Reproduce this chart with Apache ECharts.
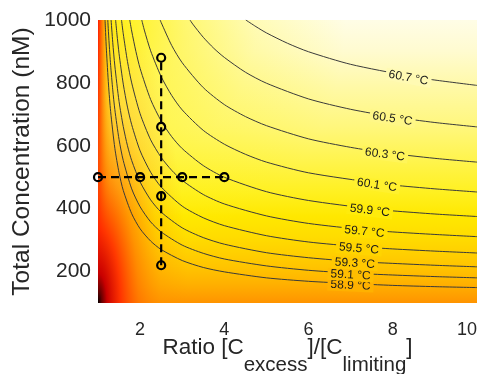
<!DOCTYPE html>
<html><head><meta charset="utf-8">
<script src="https://cdn.jsdelivr.net/npm/echarts@6/dist/echarts.min.js"></script>
<style>html,body{margin:0;padding:0;background:#fff}#c{width:489px;height:374px}</style>
</head><body><div id="c"></div>
<script>
// Contour levels (°C)
const levels = [58.9, 59.1, 59.3, 59.5, 59.7, 59.9, 60.1, 60.3, 60.5, 60.7];
// Contour lines: [ratio, total concentration nM]
const c589 = [[1.167,1000],[1.18,960],[1.2,904],[1.25,793],[1.3,709],[1.4,592],[1.5,514],[1.6,458],[1.8,384],[2,336],[2.25,297],[2.5,270],[3,235],[3.5,213],[4,199],[5,180],[6,169],[7,162],[8,156],[9,152],[10,149]];
const c591 = [[1.232,1000],[1.26,935],[1.3,856],[1.35,778],[1.4,715],[1.5,620],[1.6,553],[1.8,463],[2,406],[2.25,358],[2.5,326],[3,284],[3.5,258],[4,240],[5,218],[6,204],[7,195],[8,189],[9,184],[10,180]];
const c593 = [[1.311,1000],[1.35,929],[1.4,854],[1.5,741],[1.6,661],[1.7,600],[1.8,553],[2,485],[2.25,428],[2.5,389],[3,339],[3.5,308],[4,287],[5,260],[6,244],[7.1,232],[8,226],[9,220],[10,215]];
const c595 = [[1.418,1000],[1.45,955],[1.5,893],[1.6,796],[1.7,723],[1.8,667],[2,584],[2.25,516],[2.5,469],[3,408],[3.5,371],[4,346],[5,314],[6,294],[7.2,279],[8,272],[9,265],[10,259]];
const c597 = [[1.558,1000],[1.6,956],[1.7,868],[1.8,800],[2,702],[2.25,619],[2.5,563],[2.75,522],[3,490],[3.5,445],[4,415],[5,377],[6,353],[7.33,333],[8,326],[9,318],[10,311]];
const c599 = [[1.754,1000],[1.8,965],[1.9,900],[2,846],[2.25,747],[2.5,679],[2.75,629],[3,591],[3.5,537],[4,500],[5,454],[6,426],[7.46,400],[8,393],[9,383],[10,375]];
const c601 = [[2.039,1000],[2.1,968],[2.25,902],[2.5,820],[2.75,760],[3,714],[3.5,649],[4,605],[4.5,573],[5,548],[6,514],[7.63,481],[8,475],[9,463],[10,453]];
const c603 = [[2.476,1000],[2.5,992],[2.75,919],[3,864],[3.5,785],[4,731],[4.5,693],[5,664],[6,622],[7,595],[7.82,578],[9,560],[10,548]];
const c605 = [[3.185,1000],[3.25,987],[3.5,945],[3.75,910],[4,881],[4.5,834],[5,799],[6,749],[7,716],[8,692],[9,674],[10,660]];
const c607 = [[4.51,1000],[4.75,979],[5,959],[5.5,926],[6,899],[7,859],[8.38,822],[9,809],[10,792]];
const contours = [c589, c591, c593, c595, c597, c599, c601, c603, c605, c607];
// ratio at which each contour label sits
const labelRatio = [7, 7, 7.1, 7.2, 7.33, 7.46, 7.63, 7.82, 8, 8.38];
// Measurement points
const ratioSeries = [1, 2, 3, 4];          // at fixed concentration
const ratioSeriesConc = 500;
const concSeries = [220, 440, 660, 880];   // at fixed ratio
const concSeriesRatio = 2.5;
const xTicks = [2, 4, 6, 8, 10];
const yTicks = [200, 400, 600, 800, 1000];

const FONT = "'Liberation Sans', Arial, sans-serif";
const TXT = '#262626';
const labelBg = ['#ffb100','#ffbd00','#ffc800','#ffd400','#ffe000','#ffeb0b','#fff12e','#fff559','#fff787','#fffab3'];

const chart = echarts.init(document.getElementById('c'));

const contourSeries = contours.map((pts, k) => {
  const lp = pts.find(p => p[0] === labelRatio[k]);
  return {
    type: 'line', data: pts, smooth: 0.25, symbol: 'none', silent: true,
    lineStyle: {color: '#3a3a3a', width: 1},
    z: 2,
    markPoint: {
      symbol: 'circle', symbolSize: 1, silent: true, itemStyle: {color: 'rgba(0,0,0,0)'},
      data: [{coord: lp}],
      label: {show: true, position: 'inside', formatter: levels[k].toFixed(1) + ' °C',
        fontSize: 12, fontFamily: FONT, color: '#1a1a1a', backgroundColor: labelBg[k],
        padding: [0, 3], offset: [0, 2]}
    }
  };
});

const ptStyle = {color: 'rgba(0,0,0,0)', borderColor: '#000', borderWidth: 2.2};
const option = {
  animation: false,
  grid: {left: 98, right: 12, top: 20, bottom: 71, show: false, containLabel: false, outerBoundsMode: 'none'},
  xAxis: {
    type: 'value', min: 1, max: 10,
    axisLine: {show: false}, axisTick: {show: false}, splitLine: {show: false},
    axisLabel: {fontSize: 18, fontFamily: FONT, color: TXT, margin: 18, alignMaxLabel: 'right',
      formatter: v => xTicks.includes(v) ? String(v) : ''},
    name: 'Ratio [C{s|excess}]/[C{s|limiting}]', nameLocation: 'middle', nameGap: 32, nameMoveOverlap: false,
    nameTextStyle: {fontSize: 22.5, fontFamily: FONT, color: TXT, verticalAlign: 'top', lineHeight: 26,
      rich: {s: {fontSize: 20.5, fontFamily: FONT, color: TXT, verticalAlign: 'top', lineHeight: 22, padding: [20, 0, 0, 0]}}}
  },
  yAxis: {
    type: 'value', min: 100, max: 1000,
    axisLine: {show: false}, axisTick: {show: false}, splitLine: {show: false},
    axisLabel: {fontSize: 21, fontFamily: FONT, color: TXT, margin: 7, padding: [5, 0, 0, 0],
      formatter: v => yTicks.includes(v) ? String(v) : ''},
    name: 'Total Concentration (nM)', nameLocation: 'middle', nameGap: 63, nameMoveOverlap: false,
    nameTextStyle: {fontSize: 24.5, fontFamily: FONT, color: TXT}
  },
  series: contourSeries.concat([
    {type: 'line', data: ratioSeries.map(r => [r, ratioSeriesConc]), symbol: 'circle', symbolSize: 8,
      itemStyle: ptStyle, lineStyle: {color: '#000', width: 2.2, type: [8, 5]}, z: 10, silent: true},
    {type: 'line', data: concSeries.map(c => [concSeriesRatio, c]), symbol: 'circle', symbolSize: 8,
      itemStyle: ptStyle, lineStyle: {color: '#000', width: 2.2, type: [8, 5]}, z: 10, silent: true}
  ])
};
chart.setOption(option);

// colour field behind the contours (style layers) + label rotation along the lines
const bl = chart.convertToPixel({gridIndex: 0}, [1, 100]);
const tr = chart.convertToPixel({gridIndex: 0}, [10, 1000]);
const W = tr[0] - bl[0], H = bl[1] - tr[1];
const rectShape = {x: bl[0], y: tr[1], width: W, height: H};
const sx = 0.3;
const rot = contours.map((pts, k) => {
  const i = pts.findIndex(p => p[0] === labelRatio[k]);
  const a = chart.convertToPixel({gridIndex: 0}, pts[i - 1]);
  const b = chart.convertToPixel({gridIndex: 0}, pts[i + 1]);
  return -Math.atan2(b[1] - a[1], b[0] - a[0]) * 180 / Math.PI;
});
const cs = (arr) => arr.map(([o, c]) => ({offset: o, color: c}));
chart.setOption({
  graphic: [
    // base: vertical
    {type: 'rect', silent: true, z: 0, shape: rectShape, style: {fill: {type: 'linear', x: 0, y: 0, x2: 0, y2: 1, colorStops: cs([
      [0, '#fffde6'], [0.111, '#fffbd0'], [0.233, '#fff9a8'], [0.378, '#fff77c'], [0.5, '#fff44c'],
      [0.611, '#fff020'], [0.694, '#ffe800'], [0.767, '#ffdc00'], [0.822, '#ffd000'], [0.872, '#ffc400'],
      [0.911, '#ffb800'], [0.944, '#ffac00'], [1, '#ff9400']])}}},
    // yellow towards the upper left
    {type: 'rect', silent: true, z: 0, shape: rectShape, style: {fill: {type: 'radial', x: 0, y: 0, r: 1.25, colorStops: cs([
      [0, 'rgba(255,236,0,0.95)'], [0.1, 'rgba(255,240,0,0.8)'], [0.25, 'rgba(255,242,0,0.5)'],
      [0.45, 'rgba(255,245,0,0.2)'], [0.7, 'rgba(255,248,0,0)'], [1, 'rgba(255,248,0,0)']])}}},
    // thin red edge along ratio = 1
    {type: 'rect', silent: true, z: 0, shape: rectShape, style: {fill: {type: 'linear', x: 0, y: 0, x2: 1, y2: 0, colorStops: cs([
      [0, 'rgba(255,20,0,1)'], [0.0106, 'rgba(255,110,0,0.9)'], [0.0211, 'rgba(255,170,0,0.6)'],
      [0.0317, 'rgba(255,210,0,0.3)'], [0.0475, 'rgba(255,220,0,0)'], [1, 'rgba(255,220,0,0)']])}}},
    // dark red / black towards the lower left corner (elliptical)
    {type: 'rect', silent: true, z: 0, x: bl[0], y: tr[1], scaleX: sx, scaleY: 1,
      shape: {x: 0, y: 0, width: W / sx, height: H},
      style: {fill: {type: 'radial', x: 0, y: 1, r: 1.06, colorStops: cs([
      [0, 'rgba(0,0,0,1)'], [0.04, 'rgba(100,0,0,1)'], [0.1, 'rgba(200,0,0,1)'], [0.25, 'rgba(255,40,0,0.9)'],
      [0.45, 'rgba(255,100,0,0.6)'], [0.7, 'rgba(255,140,0,0.25)'], [1, 'rgba(255,150,0,0)']])}}}
  ],
  series: rot.map(r => ({markPoint: {label: {rotate: r}}}))
});
</script></body></html>
